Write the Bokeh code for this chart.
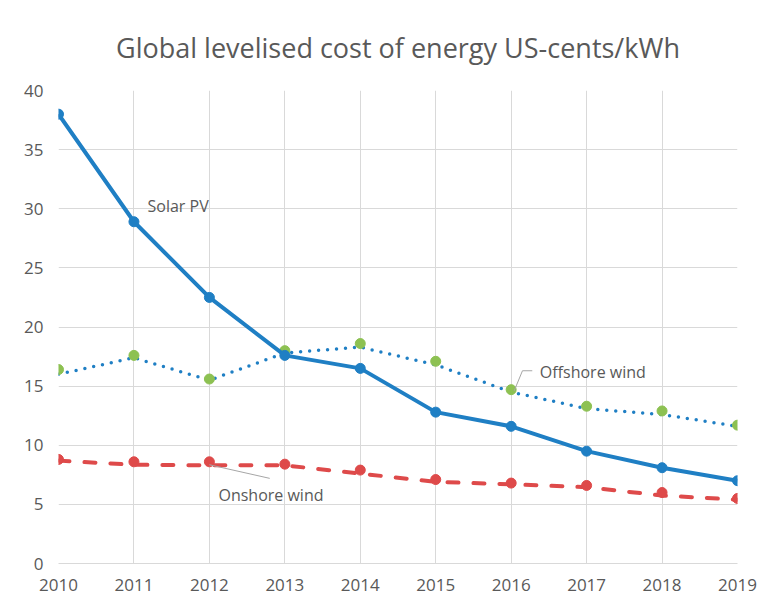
from bokeh.plotting import figure
from bokeh.models import Range1d, Label, FixedTicker
from bokeh.embed import file_html
from bokeh.resources import INLINE

years = [2010, 2011, 2012, 2013, 2014, 2015, 2016, 2017, 2018, 2019]
solar_pv = [38.0, 28.9, 22.5, 17.6, 16.5, 12.8, 11.6, 9.5, 8.1, 7.0]
offshore_pts = [16.4, 17.6, 15.6, 18.0, 18.6, 17.1, 14.7, 13.3, 12.9, 11.7]
offshore_line = [16.0, 17.4, 15.5, 17.8, 18.3, 16.8, 14.5, 13.1, 12.6, 11.6]
onshore_pts = [8.8, 8.6, 8.6, 8.4, 7.9, 7.1, 6.8, 6.6, 6.0, 5.5]
onshore_line = [8.7, 8.35, 8.3, 8.3, 7.6, 6.9, 6.7, 6.45, 5.75, 5.4]
y_ticks = [0, 5, 10, 15, 20, 25, 30, 35, 40]

title_text = "Global levelised cost of energy US-cents/kWh"
labels = ["Solar PV", "Offshore wind", "Onshore wind"]
label_x = [2011.18, 2016.38, 2012.12]
label_y = [30.2, 16.2, 5.8]
off_leader_x = [2016.04, 2016.15, 2016.28]
off_leader_y = [14.6, 16.3, 16.3]
on_leader_x = [2012.0, 2012.8]
on_leader_y = [8.35, 7.2]

BLUE = "#1f7fc4"
GREEN = "#8dc152"
RED = "#de4a4a"
GREY = "#595959"
GRID = "#d9d9d9"
FONT = "Open Sans"

p = figure(width=758, height=600, output_backend="svg", toolbar_location=None,
           x_range=Range1d(2010, 2019), y_range=Range1d(0, 40),
           min_border_left=58, min_border_right=21, min_border_top=90, min_border_bottom=37,
           title=title_text)
p.outline_line_color = None
p.title.text_font = FONT
p.title.text_font_size = "27px"
p.title.text_font_style = "normal"
p.title.text_color = GREY
p.title.align = "center"
p.title.standoff = 49

p.xaxis.ticker = FixedTicker(ticks=years)
p.yaxis.ticker = FixedTicker(ticks=y_ticks)
for ax in (p.xaxis, p.yaxis):
    ax.major_tick_line_color = None
    ax.minor_tick_line_color = None
    ax.major_label_text_font = FONT
    ax.major_label_text_font_size = "17px"
    ax.major_label_text_color = GREY
p.yaxis.axis_line_color = None
p.xaxis.axis_line_color = GRID
p.xaxis.major_label_standoff = 9
p.yaxis.major_label_standoff = 9
p.xgrid.grid_line_color = GRID
p.ygrid.grid_line_color = GRID
p.xgrid.ticker = FixedTicker(ticks=years)
p.ygrid.ticker = FixedTicker(ticks=y_ticks)

# offshore wind: dotted line + green markers
p.line(years, offshore_line, line_color=BLUE, line_width=3.5, line_dash="0 9", line_cap="round")
p.scatter(years, offshore_pts, size=10, fill_color=GREEN, line_color=GREEN)
# onshore wind: dashed red line + red markers
p.line(years, onshore_line, line_color=RED, line_width=4, line_dash="11 15", line_cap="round")
p.scatter(years, onshore_pts, size=10, fill_color=RED, line_color=RED)
# solar pv
p.line(years, solar_pv, line_color=BLUE, line_width=4, line_join="round")
p.scatter(years, solar_pv, size=10, fill_color=BLUE, line_color=BLUE)

# leader lines
p.line(off_leader_x, off_leader_y, line_color="#a6a6a6", line_width=1)
p.line(on_leader_x, on_leader_y, line_color="#a6a6a6", line_width=1)

for t, lx, ly in zip(labels, label_x, label_y):
    p.add_layout(Label(x=lx, y=ly, text=t, text_font=FONT, text_font_size="16px",
                       text_color=GREY, text_baseline="middle", text_align="left"))

open("out.html", "w").write(file_html(p, INLINE))
